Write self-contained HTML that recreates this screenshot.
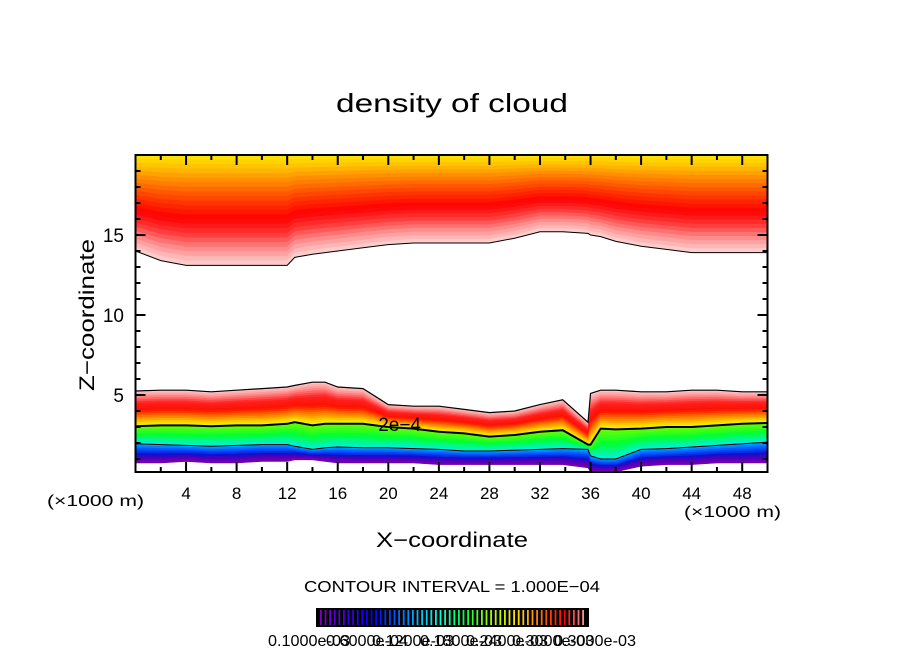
<!DOCTYPE html>
<html><head><meta charset="utf-8"><style>
html,body{margin:0;padding:0;background:#fff;}
svg{display:block;font-family:"Liberation Sans",sans-serif;}
</style></head><body>
<svg id="chart" width="904" height="654" viewBox="0 0 904 654" xmlns="http://www.w3.org/2000/svg">
<rect x="0" y="0" width="904" height="654" fill="#fff"/>
<text x="452" y="112" text-anchor="middle" font-size="26" textLength="232" lengthAdjust="spacingAndGlyphs">density of cloud</text>
<g id="fills"></g>
<g id="lines"></g>
<g id="axes"></g>
<text x="94" y="315" text-anchor="middle" font-size="21" transform="rotate(-90 94 315)" textLength="152" lengthAdjust="spacingAndGlyphs">Z−coordinate</text>
<text x="452" y="547" text-anchor="middle" font-size="21" textLength="152" lengthAdjust="spacingAndGlyphs">X−coordinate</text>
<text x="47" y="506" font-size="16" textLength="97" lengthAdjust="spacingAndGlyphs">(×1000 m)</text>
<text x="684" y="517" font-size="16" textLength="97" lengthAdjust="spacingAndGlyphs">(×1000 m)</text>
<text x="452" y="592" text-anchor="middle" font-size="16" textLength="296" lengthAdjust="spacingAndGlyphs">CONTOUR INTERVAL = 1.000E−04</text>
<g id="cbar"></g>
</svg>
<script>
// data (x in 1000 m, z in 1000 m)
const xs = [0,2,4,6,8,10,12,12.6,14,15,16,18,20,22,24,26,28,30,32,33.8,35.8,36.0,36.8,38,40,42,44,46,48,50];
const upperBase = [14.0,13.4,13.1,13.1,13.1,13.1,13.1,13.6,13.8,13.9,14.0,14.2,14.4,14.5,14.5,14.5,14.5,14.8,15.2,15.2,15.1,15.0,14.9,14.6,14.3,14.1,13.9,13.9,13.9,13.9];
const lowerTop = [5.25,5.3,5.3,5.2,5.3,5.4,5.5,5.6,5.8,5.8,5.5,5.4,4.4,4.3,4.3,4.1,3.9,4.0,4.4,4.7,3.3,5.1,5.3,5.3,5.2,5.2,5.3,5.3,5.2,5.2];
const contour2e4 = [3.05,3.1,3.1,3.05,3.1,3.1,3.2,3.3,3.1,3.2,3.2,3.2,3.0,2.9,2.7,2.6,2.4,2.5,2.7,2.8,1.9,1.9,2.9,2.85,2.9,3.0,3.0,3.1,3.2,3.25];
const contourLow = [1.95,1.9,1.85,1.8,1.85,1.9,1.9,1.8,1.6,1.7,1.75,1.7,1.7,1.65,1.6,1.5,1.5,1.55,1.6,1.65,1.6,1.2,1.0,1.0,1.6,1.65,1.75,1.85,1.95,2.05];
const lowerBottom = [0.75,0.75,0.85,0.75,0.75,0.85,0.85,0.95,0.95,0.85,0.75,0.75,0.75,0.75,0.65,0.65,0.65,0.65,0.65,0.65,0.45,0.2,0.2,0.2,0.55,0.65,0.65,0.75,0.75,0.75];
const zTop = 20;
const xTicks = [4,8,12,16,20,24,28,32,36,40,44,48];
const zTicks = [5,10,15];
const cbarLabels = ["0.1000e-03","0.6000e-04","0.1200e-03","0.1800e-03","0.2400e-03","0.3000e-03","0.3000e-03"];

const X0=135.5, X1=767.5, XMAX=50, ZY0=475, ZS=16;
const sx = x => X0 + x*(X1-X0)/XMAX;
const sy = z => ZY0 - z*ZS;
const NS="http://www.w3.org/2000/svg";
function mk(tag, attrs, parent){const e=document.createElementNS(NS,tag);for(const k in attrs)e.setAttribute(k,attrs[k]);parent.appendChild(e);return e;}
function hex(c){return [parseInt(c.slice(1,3),16),parseInt(c.slice(3,5),16),parseInt(c.slice(5,7),16)];}
function ramp(stops,f){for(let i=1;i<stops.length;i++){if(f<=stops[i][0]){const a=stops[i-1],b=stops[i];const t=(f-a[0])/(b[0]-a[0]||1);const ca=hex(a[1]),cb=hex(b[1]);return 'rgb('+ca.map((v,j)=>Math.round(v+(cb[j]-v)*t)).join(',')+')';}}return stops[stops.length-1][1];}
const fills=document.getElementById('fills');
function band(topArr, botArr, stops, n, name){
  for(let k=0;k<n;k++){
    const f0=k/n, f1=(k+1)/n;
    const a=[],b=[];
    xs.forEach((x,i)=>{const t=typeof topArr==='number'?topArr:topArr[i];const bt=botArr[i];
      a.push(sx(x)+','+sy(t+(bt-t)*f0));b.push(sx(x)+','+sy(t+(bt-t)*f1));});
    const p=mk('polygon',{points:a.concat(b.reverse()).join(' '),fill:ramp(stops,(f0+f1)/2),stroke:ramp(stops,(f0+f1)/2),'stroke-width':0.6},fills);
    
    
  }
}
band(zTop, upperBase, [[0,'#ffe800'],[0.12,'#ffc000'],[0.3,'#ff7000'],[0.45,'#ff3000'],[0.58,'#ff0000'],[0.72,'#ff3838'],[0.86,'#ff9090'],[1,'#ffd4d4']], 24, 'upper-cloud');
band(lowerTop, contour2e4, [[0,'#ffd0d0'],[0.15,'#ff9090'],[0.35,'#ff2020'],[0.55,'#ff1000'],[0.75,'#ff8000'],[0.9,'#ffd000'],[1,'#e0ff00']], 20, 'lower-cloud-upper');
band(contour2e4, contourLow, [[0,'#70ff00'],[0.5,'#00ff30'],[1,'#00f0e0']], 10, 'lower-cloud-mid');
band(contourLow, lowerBottom, [[0,'#00b0ff'],[0.3,'#0050ff'],[0.55,'#1010d0'],[0.75,'#5000b8'],[1,'#7800b0']], 10, 'lower-cloud-bottom');

const lines=document.getElementById('lines');
function line(arr,w,name){const pts=xs.map((x,i)=>sx(x)+','+sy(arr[i])).join(' ');
  const l=mk('polyline',{points:pts,fill:'none',stroke:'#000','stroke-width':w},lines);
  
  }
line(upperBase,1,'upper-boundary-contour');
line(lowerTop,1.2,'lower-boundary-contour');
line(contour2e4,2,'contour-2e-4');
line(contourLow,1,'contour-low');
const lx=sx(19.2), ly=sy(contour2e4[11]);
const lbl=mk('text',{x:lx,y:ly+7,'font-size':19},lines);
lbl.textContent='2e−4';



const axes=document.getElementById('axes');
const yT=sy(zTop), yB=472;
mk('rect',{x:X0,y:yT,width:X1-X0,height:yB-yT,fill:'none',stroke:'#000','stroke-width':2},axes);
for(let x=0;x<=XMAX;x+=2){const len=(x%4===0)?10:5;
  mk('line',{x1:sx(x),y1:yB,x2:sx(x),y2:yB-len,stroke:'#000','stroke-width':2},axes);
  mk('line',{x1:sx(x),y1:yT,x2:sx(x),y2:yT+len,stroke:'#000','stroke-width':2},axes);}
for(let z=1;z<zTop;z++){const len=(z%5===0)?10:5;
  mk('line',{x1:X0,y1:sy(z),x2:X0+len,y2:sy(z),stroke:'#000','stroke-width':2},axes);
  mk('line',{x1:X1,y1:sy(z),x2:X1-len,y2:sy(z),stroke:'#000','stroke-width':2},axes);}
xTicks.forEach(v=>{const t=mk('text',{x:sx(v),y:499,'text-anchor':'middle','font-size':17},axes);t.textContent=v;
  
  });
zTicks.forEach(v=>{const t=mk('text',{x:124,y:sy(v)+7,'text-anchor':'end','font-size':19},axes);t.textContent=v;
  
  });

const cb=document.getElementById('cbar');
mk('rect',{x:316,y:608,width:273,height:19,fill:'#000'},cb);
const cs=[[0,'#8000c0'],[0.2,'#0000ff'],[0.35,'#00a0ff'],[0.45,'#00ffe0'],[0.55,'#00ff40'],[0.65,'#a0ff00'],[0.75,'#ffe000'],[0.85,'#ff6000'],[0.93,'#ff0000'],[1,'#ff9090']];
for(let i=0;i<58;i++){const x=320+i*4.6;
  mk('rect',{x:x,y:610,width:1.8,height:15,fill:ramp(cs,i/57)},cb);}
const lxs=[268,326,372,420,466,512,554];
cbarLabels.forEach((s,i)=>{const t=mk('text',{x:lxs[i],y:646,'font-size':16,textLength:82,lengthAdjust:'spacingAndGlyphs'},cb);t.textContent=s;
  
  });
</script>
</body></html>
